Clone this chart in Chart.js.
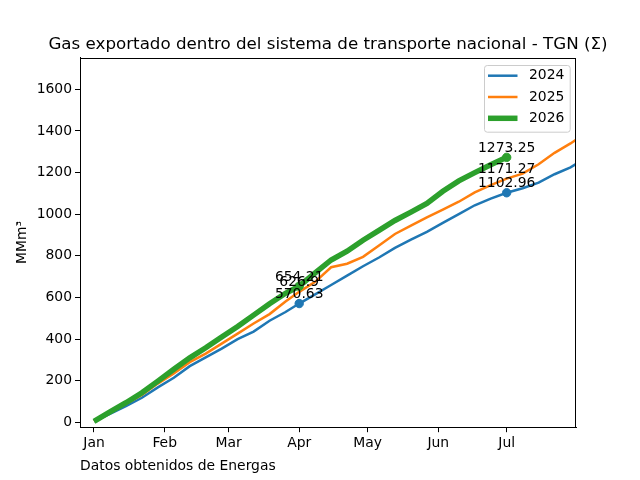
<!DOCTYPE html>
<html><head><meta charset="utf-8">
<script src="https://cdn.jsdelivr.net/npm/chart.js@4/dist/chart.umd.min.js"></script>
<style>html,body{margin:0;padding:0;background:#fff;overflow:hidden}</style>
</head><body>
<canvas id="c" width="640" height="480"></canvas>
<script>
const chartTitle = 'Gas exportado dentro del sistema de transporte nacional - TGN (Σ)';
const yAxisTitle = 'MMm³';
const xAxisTitle = 'Datos obtenidos de Energas';
const monthLabels = ['Jan','Feb','Mar','Apr','May','Jun','Jul'];
const monthDays = [0,31,59,90,120,151,181];
const yTickValues = [0,200,400,600,800,1000,1200,1400,1600];
const markDays = [90,181];

const days = [0,7,14,21,28,35,42,49,56,63,70,77,84,90,97,104,111,118,125,132,139,146,153,160,167,174,181,188,195,202,209,212];
const vals2024 = [5,40,78,118,168,214,270,312,354,400,436,488,530,570.63,615,660,705,750,792,838,878,915,958,1000,1043,1075,1102.96,1125,1152,1192,1225,1245];
const vals2025 = [6,45,88,132,186,235,289,330,378,426,475,520,580,626.9,675,745,762,795,850,905,945,985,1022,1060,1105,1140,1171.27,1195,1240,1295,1340,1362];
const vals2026 = [5,50,94,142,198,255,310,358,410,460,515,570,620,654.21,718,780,822,875,922,970,1010,1052,1110,1160,1200,1238,1273.25];

const FONT = 'DejaVu Sans';
const fs = 13.9;

function xy(vals){ return vals.map((v,i)=>({x:days[i], y:v})); }

const datasets = [
  {label:'2024', data:xy(vals2024), borderColor:'#1f77b4', backgroundColor:'#1f77b4', borderWidth:2.5, order:3, markers:true},
  {label:'2025', data:xy(vals2025), borderColor:'#ff7f0e', backgroundColor:'#ff7f0e', borderWidth:2.5, order:2, markers:false},
  {label:'2026', data:xy(vals2026), borderColor:'#2ca02c', backgroundColor:'#2ca02c', borderWidth:5.5, order:1, markers:true}
];
datasets.forEach(ds=>{
  ds.pointRadius = (c)=> (ds.markers && c.raw && markDays.includes(c.raw.x)) ? 4.2 : 0;
  ds.pointHoverRadius = 0;
  ds.pointBorderWidth = 1;
  ds.pointBorderColor = ds.borderColor;
  ds.pointBackgroundColor = ds.borderColor;
  ds.fill = false;
  ds.tension = 0;
});

const extras = {
  id:'extras',
  afterDatasetsDraw(chart){
    const ctx = chart.ctx, a = chart.chartArea;
    const xs = chart.scales.x, ys = chart.scales.y;
    ctx.save();
    // title, centred over the plot area
    ctx.font = '16.7px "' + FONT + '"';
    ctx.fillStyle = '#000';
    ctx.textAlign = 'center';
    ctx.textBaseline = 'alphabetic';
    ctx.fillText(chartTitle, (a.left + a.right) / 2, a.top - 8.3);
    // value annotations
    ctx.font = fs + 'px "' + FONT + '"';
    datasets.forEach(ds=>{
      ds.data.forEach(p=>{
        if (markDays.includes(p.x)) {
          ctx.fillText(String(p.y), xs.getPixelForValue(p.x), ys.getPixelForValue(p.y) - 5.5);
        }
      });
    });
    // frame
    ctx.strokeStyle = '#000';
    ctx.lineWidth = 1;
    ctx.strokeRect(Math.round(a.left)+0.5, Math.round(a.top)+0.5, Math.round(a.right-a.left)-1, Math.round(a.bottom-a.top)-1);
    // legend
    const bw = 85.7, bh = 66.7;
    const bx = a.right - 6.3 - bw, by = a.top + 7.4;
    ctx.beginPath();
    if (ctx.roundRect) ctx.roundRect(bx+0.5, by+0.5, bw, bh, 2.8); else ctx.rect(bx+0.5, by+0.5, bw, bh);
    ctx.fillStyle = 'rgba(255,255,255,0.8)';
    ctx.fill();
    ctx.strokeStyle = '#cccccc';
    ctx.stroke();
    datasets.forEach((ds,i)=>{
      const yy = by + 10.7 + i*21.3;
      ctx.beginPath();
      ctx.strokeStyle = ds.borderColor;
      ctx.lineWidth = ds.borderWidth;
      ctx.lineCap = 'butt';
      ctx.moveTo(bx + 4, yy);
      ctx.lineTo(bx + 33.5, yy);
      ctx.stroke();
      ctx.fillStyle = '#000';
      ctx.textAlign = 'left';
      ctx.textBaseline = 'middle';
      ctx.fillText(ds.label, bx + 45, yy);
    });
    ctx.restore();
  }
};

const tickFont = {family:FONT, size:fs};
new Chart(document.getElementById('c'), {
  type:'line',
  data:{datasets},
  options:{
    responsive:false, animation:false, devicePixelRatio:1,
    layout:{padding:{left:0,right:64,top:57.6,bottom:0}},
    plugins:{
      legend:{display:false},
      tooltip:{enabled:false},
      title:{display:false}
    },
    scales:{
      x:{type:'linear', min:-6.14, max:211.4,
        afterFit:(s)=>{ s.height = 52.8; },
        afterBuildTicks:(s)=>{ s.ticks = monthDays.map(v=>({value:v})); },
        ticks:{callback:(v,i)=>monthLabels[i], color:'#000', font:tickFont, padding:3, maxRotation:0, autoSkip:false},
        grid:{drawOnChartArea:false, drawTicks:true, tickLength:5, color:'#000'},
        border:{display:true, color:'#000'},
        title:{display:true, text:xAxisTitle, align:'start', color:'#000', font:tickFont, padding:{top:0,bottom:5}}
      },
      y:{type:'linear', min:-23.5, max:1752.5,
        afterFit:(s)=>{ s.width = 80; },
        afterBuildTicks:(s)=>{ s.ticks = yTickValues.map(v=>({value:v})); },
        ticks:{callback:(v)=>String(v), color:'#000', font:tickFont, padding:3, autoSkip:false},
        grid:{drawOnChartArea:false, drawTicks:true, tickLength:5, color:'#000'},
        border:{display:true, color:'#000'},
        title:{display:true, text:yAxisTitle, color:'#000', font:tickFont, padding:{top:14,bottom:0}}
      }
    }
  },
  plugins:[extras]
});
</script>
</body></html>
